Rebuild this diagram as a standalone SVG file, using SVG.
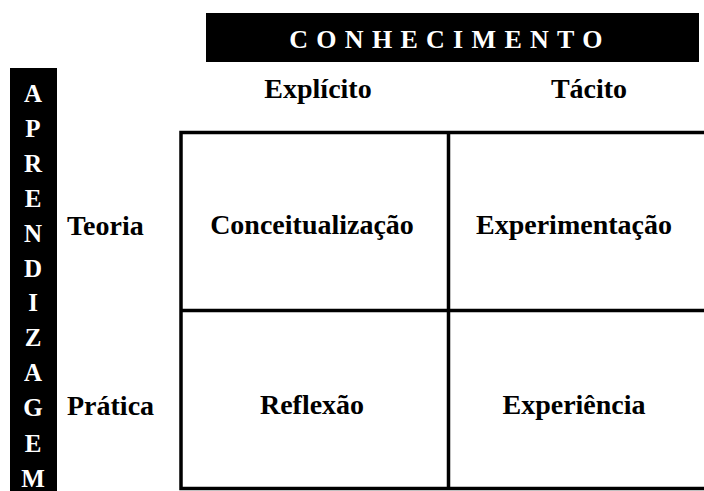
<svg xmlns="http://www.w3.org/2000/svg" width="704" height="491" viewBox="0 0 704 491">
<style>
.t{font-family:"Liberation Serif","Times New Roman",serif;font-weight:bold;font-size:28px;fill:#000}
.w{font-family:"Liberation Serif","Times New Roman",serif;font-weight:bold;fill:#fff}
.g{fill:none;stroke:#000;stroke-width:3.5}
</style>
<rect width="704" height="491" fill="#fff"/>
<g id="header-conhecimento">
<rect x="206" y="13" width="493" height="49" fill="#000"/>
<text class="w" x="450" y="48" font-size="26" letter-spacing="8.3" text-anchor="middle">CONHECIMENTO</text>
</g>
<g id="header-aprendizagem">
<rect x="10" y="68" width="47" height="430" fill="#000"/>
<g class="w" font-size="25" text-anchor="middle">
<text x="33" y="102">A</text>
<text x="33" y="137">P</text>
<text x="33" y="172">R</text>
<text x="33" y="207">E</text>
<text x="33" y="242">N</text>
<text x="33" y="277">D</text>
<text x="33" y="311">I</text>
<text x="33" y="346">Z</text>
<text x="33" y="381">A</text>
<text x="33" y="416">G</text>
<text x="33" y="452">E</text>
<text x="33" y="487">M</text>
</g>
</g>
<g id="col-explicito"><text class="t" x="318" y="98" text-anchor="middle">Explícito</text></g>
<g id="col-tacito"><text class="t" x="589" y="98" text-anchor="middle">Tácito</text></g>
<g id="row-teoria"><text class="t" x="67" y="235">Teoria</text></g>
<g id="row-pratica"><text class="t" x="67" y="415">Prática</text></g>
<g id="connectors">
<rect class="g" x="181" y="132.5" width="560" height="356"/>
<line class="g" x1="448.5" y1="132.5" x2="448.5" y2="488.5"/>
<line class="g" x1="181" y1="310.5" x2="741" y2="310.5"/>
</g>
<g id="cell-conceitualizacao"><text class="t" x="312" y="234" text-anchor="middle">Conceitualização</text></g>
<g id="cell-experimentacao"><text class="t" x="574" y="234" text-anchor="middle">Experimentação</text></g>
<g id="cell-reflexao"><text class="t" x="312" y="414" text-anchor="middle">Reflexão</text></g>
<g id="cell-experiencia"><text class="t" x="574" y="414" text-anchor="middle">Experiência</text></g>
</svg>
